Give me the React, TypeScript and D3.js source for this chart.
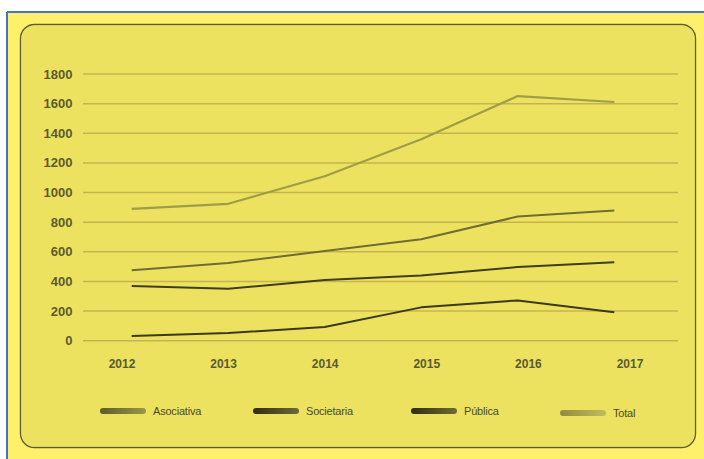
import React from "react";
import * as d3 from "d3";

const years = ["2012", "2013", "2014", "2015", "2016", "2017"];
const yTicks = [0, 200, 400, 600, 800, 1000, 1200, 1400, 1600, 1800];
const asociativa = [476, 525, 605, 685, 838, 879];
const societaria = [369, 350, 410, 440, 497, 530];
const publica = [31, 52, 92, 225, 272, 192];
const total = [890, 924, 1110, 1360, 1651, 1611];
const seriesNames = ["Asociativa", "Societaria", "Pública", "Total"];

const W = 704;
const H = 459;

const colors: Record<string, string> = {
  Asociativa: "#6f6c34",
  Societaria: "#3f3d1c",
  "Pública": "#3b3919",
  Total: "#a09d48",
};
const gradStops: Record<string, [string, string]> = {
  Asociativa: ["#5e5b2a", "#9a9748"],
  Societaria: ["#2f2d12", "#6e6b34"],
  "Pública": ["#2f2d12", "#6e6b34"],
  Total: ["#8f8c3e", "#c2bd5a"],
};

export default function App() {
  const y = d3.scaleLinear().domain([0, 1800]).range([340.7, 74]);
  const xData = d3.scaleLinear().domain([0, years.length - 1]).range([131.7, 614.3]);
  const xLabel = d3.scalePoint<string>().domain(years).range([122, 630]);
  const legendX = d3.scalePoint<string>().domain(seriesNames).range([100, 560]);

  const data: Record<string, number[]> = {
    Asociativa: asociativa,
    Societaria: societaria,
    "Pública": publica,
    Total: total,
  };
  const line = d3
    .line<number>()
    .x((_, i) => xData(i))
    .y((v) => y(v))
    .curve(d3.curveLinear);

  const legendOffsets: Record<string, number> = { Asociativa: 0, Societaria: 153, "Pública": 311, Total: 460 };

  return (
    <svg
      width={W}
      height={H}
      style={{ position: "absolute", left: 0, top: 0, display: "block" }}
      fontFamily="'Liberation Sans', Arial, sans-serif"
    >
      <defs>
        {seriesNames.map((n, i) => (
          <linearGradient key={n} id={`g${i}`} x1="0" x2="1" y1="0" y2="0">
            <stop offset="0" stopColor={gradStops[n][0]} />
            <stop offset="1" stopColor={gradStops[n][1]} />
          </linearGradient>
        ))}
        <filter id="blur" x="-5%" y="-5%" width="110%" height="110%">
          <feGaussianBlur stdDeviation="0.6" />
        </filter>
      </defs>
      <rect x={0} y={0} width={W} height={H} fill="#ffffff" />
      <rect x={7} y={12} width={W} height={H} fill="#fff06c" />
      <line x1={7} x2={W} y1={12} y2={12} stroke="#4a72c4" strokeWidth={2} />
      <line x1={7} x2={7} y1={12} y2={H} stroke="#4a72c4" strokeWidth={2} />
      <rect x={20.5} y={24.5} width={675} height={423} rx={14} fill="#ede260" stroke="#5f5d30" strokeWidth={1.4} filter="url(#blur)" />
      <rect x={21.5} y={25.5} width={673} height={421} rx={13} fill="#ede260" />

      {yTicks.map((t) => (
        <g key={t}>
          <line x1={83} x2={678} y1={y(t)} y2={y(t)} stroke="#c3b54e" strokeWidth={1.5} />
          <text
            x={72.5}
            y={y(t)}
            dy="0.35em"
            textAnchor="end"
            fontSize={13}
            fontWeight="bold"
            fill="#5c5a2c"
          >
            {t}
          </text>
        </g>
      ))}

      {years.map((yr) => (
        <text
          key={yr}
          x={xLabel(yr)}
          y={364}
          dy="0.35em"
          textAnchor="middle"
          fontSize={12}
          fontWeight="bold"
          fill="#5c5a2c"
        >
          {yr}
        </text>
      ))}

      {seriesNames.map((n) => (
        <path
          key={n}
          d={line(data[n]) || ""}
          fill="none"
          stroke={colors[n]}
          strokeWidth={n === "Total" ? 2.2 : 2}
          strokeLinejoin="round"
        />
      ))}

      {seriesNames.map((n, i) => {
        const lx = 100 + legendOffsets[n];
        return (
          <g key={n} transform={`translate(${lx},${n === "Total" ? 413 : 411})`}>
            <rect x={0} y={-3} width={46} height={6} rx={3} fill={`url(#g${i})`} />
            <text x={53} y={0} dy="0.35em" fontSize={11} fill="#4c4a26" style={{ letterSpacing: "-0.2px" }}>
              {n}
            </text>
          </g>
        );
      })}
    </svg>
  );
}
